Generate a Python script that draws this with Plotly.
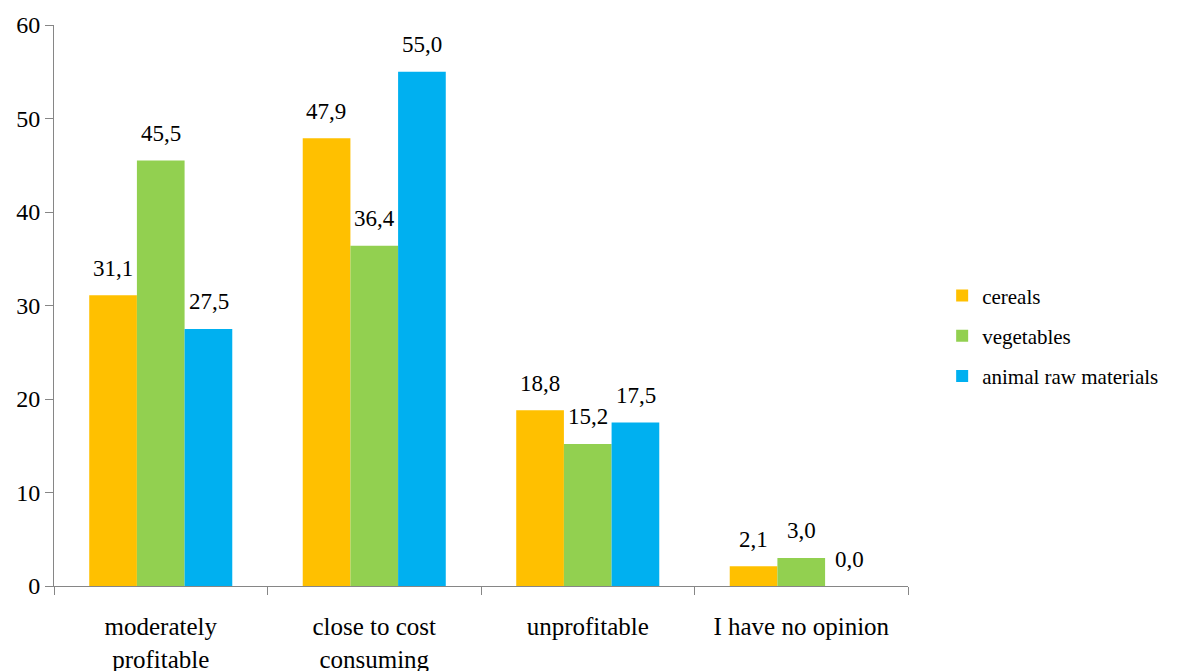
import plotly.graph_objects as go

categories = ["moderately<br>profitable", "close to cost<br>consuming", "unprofitable", "I have no opinion"]
series_names = ["cereals", "vegetables", "animal raw materials"]
cereals = [31.1, 47.9, 18.8, 2.1]
vegetables = [45.5, 36.4, 15.2, 3.0]
animal = [27.5, 55.0, 17.5, 0.0]
colors = ["#FFC000", "#92D050", "#00B0F0"]
y_ticks = [0, 10, 20, 30, 40, 50, 60]

FONT = "Liberation Serif"
all_values = [cereals, vegetables, animal]

fig = go.Figure()
for i, (name, vals) in enumerate(zip(series_names, all_values)):
    fig.add_trace(go.Bar(
        x=categories, y=vals, name=name,
        marker=dict(color=colors[i], line=dict(width=0)),
        legendgroup=name,
    ))

# data labels
bar_px = 48
annotations = []
for i, vals in enumerate(all_values):
    for c, v in zip(categories, vals):
        annotations.append(dict(
            x=c, y=v, xref="x", yref="y",
            text=f"{v:.1f}".replace(".", ","),
            showarrow=False, xshift=(i - 1) * bar_px, yshift=27,
            font=dict(family=FONT, size=23, color="black"),
        ))

fig.update_layout(
    width=1177, height=671,
    margin=dict(l=54, r=269, t=25, b=85, autoexpand=False),
    paper_bgcolor="white", plot_bgcolor="white",
    barmode="group", bargap=0.33, bargroupgap=0,
    font=dict(family=FONT, size=22, color="black"),
    showlegend=True,
    legend=dict(x=1.04, y=0.446, xanchor="left", yanchor="middle",
                font=dict(family=FONT, size=21, color="black"),
                traceorder="grouped", tracegroupgap=10,
                bgcolor="rgba(0,0,0,0)"),
    annotations=annotations,
)
fig.update_xaxes(
    showline=True, linecolor="#868686", linewidth=1,
    ticks="outside", tickson="boundaries", ticklen=8, tickcolor="#868686",
    tickfont=dict(family=FONT, size=25, color="black"),
    ticklabelstandoff=18,
    showgrid=False, zeroline=False,
)
fig.update_yaxes(
    range=[0, 60], tickvals=y_ticks,
    showline=True, linecolor="#868686", linewidth=1,
    ticks="outside", ticklen=8, tickcolor="#868686",
    tickfont=dict(family=FONT, size=24, color="black"),
    showgrid=False, zeroline=False,
)

fig.write_html("out.html")
